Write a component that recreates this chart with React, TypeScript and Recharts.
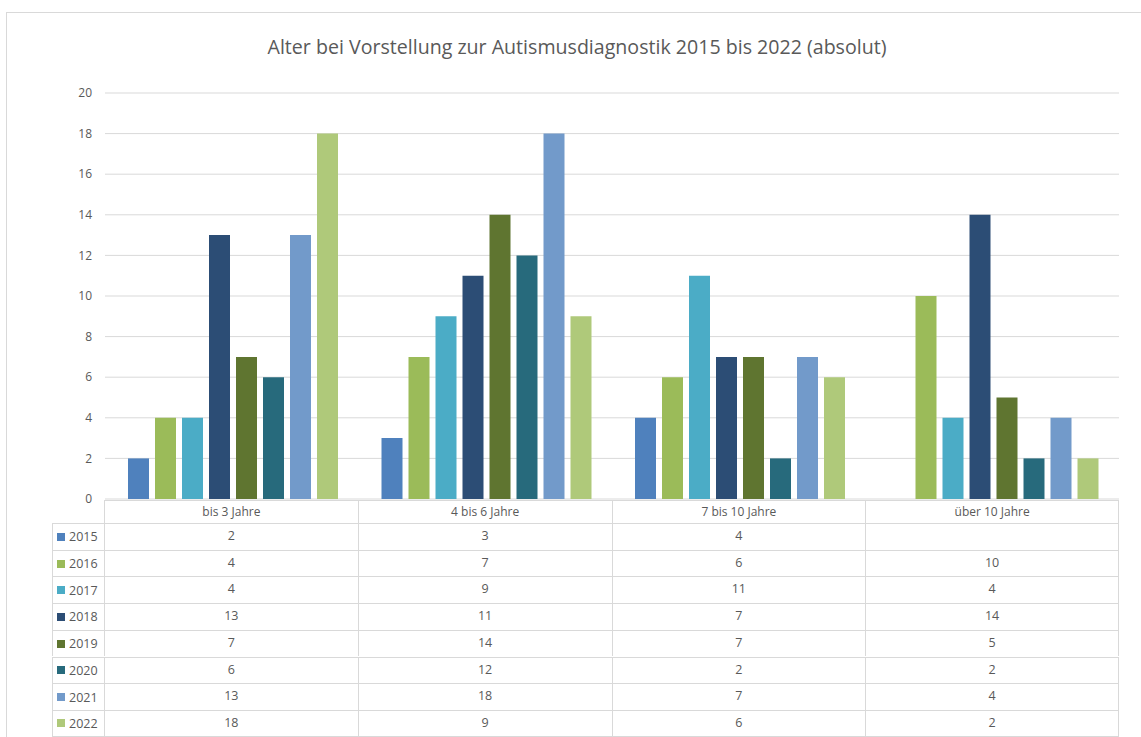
import React from "react";
import { BarChart, Bar, XAxis, YAxis, CartesianGrid } from "recharts";

const categories = ["bis 3 Jahre", "4 bis 6 Jahre", "7 bis 10 Jahre", "über 10 Jahre"];
const years = ["2015", "2016", "2017", "2018", "2019", "2020", "2021", "2022"];
const v2015: (number | null)[] = [2, 3, 4, null];
const v2016: (number | null)[] = [4, 7, 6, 10];
const v2017: (number | null)[] = [4, 9, 11, 4];
const v2018: (number | null)[] = [13, 11, 7, 14];
const v2019: (number | null)[] = [7, 14, 7, 5];
const v2020: (number | null)[] = [6, 12, 2, 2];
const v2021: (number | null)[] = [13, 18, 7, 4];
const v2022: (number | null)[] = [18, 9, 6, 2];
const yTicks = [0, 2, 4, 6, 8, 10, 12, 14, 16, 18, 20];
const colors = ["#4F81BD", "#9BBB59", "#4BACC6", "#2C4D75", "#5F7530", "#276A7C", "#729ACA", "#AFC97A"];

const seriesValues = [v2015, v2016, v2017, v2018, v2019, v2020, v2021, v2022];

const data = categories.map((cat, i) => {
  const row: Record<string, string | number | null> = { cat };
  years.forEach((y, j) => {
    row[y] = seriesValues[j][i];
  });
  return row;
});

const FONT = "'Open Sans', sans-serif";
const TXT = "#595959";
const LINE = "#D9D9D9";

export default function App() {
  const colW = 253.75;
  const legendW = 52;
  const headerH = 22;
  const rowH = 26.7;
  return (
    <div
      style={{
        position: "absolute",
        left: 6,
        top: 12,
        width: 1140,
        height: 730,
        border: `1px solid ${LINE}`,
        boxSizing: "border-box",
        background: "#fff",
        fontFamily: FONT,
      }}
    >
      <div
        style={{
          position: "absolute",
          left: 0,
          top: 21,
          width: 1140,
          textAlign: "center",
          fontSize: 19.6,
          color: TXT,
          lineHeight: "26px",
        }}
      >
        Alter bei Vorstellung zur Autismusdiagnostik 2015 bis 2022 (absolut)
      </div>
      <div style={{ position: "absolute", left: -1, top: -1 }}>
        <BarChart
          width={1140}
          height={500}
          data={data}
          margin={{ top: 81, right: 27, left: 59, bottom: 13 }}
          barCategoryGap={23}
          barGap={6}
        >
          <CartesianGrid horizontal vertical={false} stroke={LINE} strokeWidth={1} />
          <XAxis dataKey="cat" hide />
          <YAxis
            width={40}
            domain={[0, 20]}
            ticks={yTicks}
            axisLine={false}
            tickLine={false}
            tickSize={0}
            tickMargin={13}
            interval={0}
            tick={{ fill: TXT, fontSize: 12, fontFamily: FONT }}
          />
          {years.map((y, j) => (
            <Bar key={y} dataKey={y} fill={colors[j]} isAnimationActive={false} />
          ))}
        </BarChart>
      </div>
      {/* data table */}
      <div style={{ position: "absolute", left: 45, top: 487, width: legendW + 4 * colW, height: headerH + 8 * rowH }}>
        {categories.map((c, i) => (
          <div
            key={c}
            style={{
              position: "absolute",
              left: legendW + i * colW,
              top: 0,
              width: colW,
              height: headerH + 1,
              borderLeft: `1.5px solid ${LINE}`,
              borderTop: `1.5px solid ${LINE}`,
              borderRight: i === 3 ? `1.5px solid ${LINE}` : undefined,
              boxSizing: "border-box",
              fontSize: 12,
              color: TXT,
              textAlign: "center",
              lineHeight: `${headerH}px`,
            }}
          >
            {c}
          </div>
        ))}
        {years.map((y, j) => (
          <React.Fragment key={y}>
            <div
              style={{
                position: "absolute",
                left: 0,
                top: headerH + 1 + j * rowH,
                width: legendW,
                height: rowH,
                borderLeft: `1.5px solid ${LINE}`,
                borderTop: `1.5px solid ${LINE}`,
                borderBottom: j === 7 ? `1.5px solid ${LINE}` : undefined,
                boxSizing: "border-box",
                fontSize: 12.5,
                color: TXT,
                display: "flex",
                alignItems: "center",
              }}
            >
              <span
                style={{
                  display: "inline-block",
                  width: 8,
                  height: 8,
                  background: colors[j],
                  marginLeft: 4,
                  marginRight: 4,
                }}
              />
              {y}
            </div>
            {categories.map((c, i) => {
              const v = seriesValues[j][i];
              return (
                <div
                  key={c}
                  style={{
                    position: "absolute",
                    left: legendW + i * colW,
                    top: headerH + 1 + j * rowH,
                    width: colW,
                    height: rowH,
                    borderLeft: `1.5px solid ${LINE}`,
                    borderTop: `1.5px solid ${LINE}`,
                    borderRight: i === 3 ? `1.5px solid ${LINE}` : undefined,
                    borderBottom: j === 7 ? `1.5px solid ${LINE}` : undefined,
                    boxSizing: "border-box",
                    fontSize: 12.5,
                    color: TXT,
                    textAlign: "center",
                    lineHeight: `${rowH - 2}px`,
                  }}
                >
                  {v === null ? "" : v}
                </div>
              );
            })}
          </React.Fragment>
        ))}
      </div>
    </div>
  );
}
